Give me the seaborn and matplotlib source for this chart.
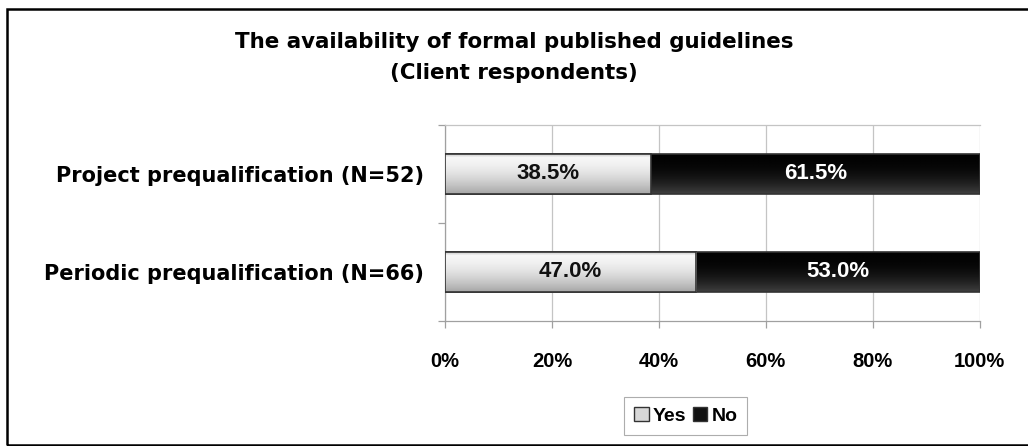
import numpy as np
import pandas as pd
import matplotlib
matplotlib.use("Agg")
import matplotlib.pyplot as plt
from matplotlib.patches import Rectangle, Patch
import seaborn as sns

categories = ["Project prequalification (N=52)", "Periodic prequalification (N=66)"]
yes_pct = [38.5, 47.0]
no_pct = [61.5, 53.0]
series = ["Yes", "No"]
xticks = [0, 20, 40, 60, 80, 100]
xtick_labels = ["0%", "20%", "40%", "60%", "80%", "100%"]

sns.set_theme(style="white")
plt.rcParams["font.family"] = ["Liberation Sans", "DejaVu Sans"]
plt.rcParams["text.color"] = "black"
WIDE = ["DejaVu Sans"]

fig = plt.figure(figsize=(10.28, 4.46), dpi=100)
ax = fig.add_axes([0.433, 0.2803, 0.520, 0.4395])

df = pd.DataFrame({"category": categories, "Yes": yes_pct, "No": no_pct})
df["total"] = df["Yes"] + df["No"]

# stacked bars: full length in the "No" colour, "Yes" drawn over it
sns.barplot(data=df, x="total", y="category", orient="h", color="#111111",
            width=0.4, edgecolor="#333333", linewidth=1.2, ax=ax, zorder=3)
sns.barplot(data=df, x="Yes", y="category", orient="h", color="#dddddd",
            width=0.4, edgecolor="#333333", linewidth=1.2, ax=ax, zorder=4)

# vertical gradient shading inside each bar
n = len(categories)
t = np.linspace(0, 1, 64).reshape(-1, 1)
for i, patch in enumerate(ax.patches):
    light = i >= n
    x0, y0 = patch.get_x(), patch.get_y()
    w, h = patch.get_width(), patch.get_height()
    if light:
        vals = 0.97 - 0.32 * t ** 1.8
        vals[:4] = 0.86
    else:
        vals = 0.01 + 0.24 * t ** 2.2
    img = np.repeat(vals, 2, axis=1)
    im = ax.imshow(img, cmap="gray", vmin=0, vmax=1, aspect="auto",
                   extent=(x0, x0 + w, y0 + h, y0), origin="upper",
                   zorder=patch.get_zorder() + 0.1, interpolation="bilinear")
    im.set_clip_path(patch)
    patch.set_facecolor("none")
    patch.set_zorder(patch.get_zorder() + 0.2)

# value labels centred in each segment
for i in range(n):
    ax.text(yes_pct[i] / 2, i, f"{yes_pct[i]:.1f}%", ha="center", va="center",
            fontsize=16, fontweight="bold", color="#111111", zorder=10)
    ax.text(yes_pct[i] + no_pct[i] / 2, i, f"{no_pct[i]:.1f}%", ha="center",
            va="center", fontsize=16, fontweight="bold", color="white", zorder=10)

ax.set_xlim(0, 100)
ax.set_ylim(1.5, -0.5)
ax.set_xticks(xticks)
ax.set_xticklabels(xtick_labels, fontsize=14.5, fontweight="bold", color="black")
ax.set_yticks([0, 1])
ax.set_yticklabels(categories, fontsize=15, fontweight="bold", color="black",
                   family=WIDE)
ax.set_xlabel("")
ax.set_ylabel("")

ax.grid(axis="x", color="#c4c4c4", linewidth=0.9, zorder=0)
ax.set_axisbelow(True)
ax.spines["right"].set_visible(False)
for s in ["left", "bottom", "top"]:
    ax.spines[s].set_color("#a0a0a0")
    ax.spines[s].set_linewidth(0.9)
ax.spines["top"].set_color("#c4c4c4")

# minor ticks at category boundaries on the y axis
ax.set_yticks([-0.5, 0.5, 1.5], minor=True)
ax.tick_params(axis="y", which="minor", length=5, color="#a0a0a0", width=0.9, left=True)
ax.tick_params(axis="y", which="major", length=0, pad=15)
ax.tick_params(axis="x", which="major", length=5, color="#a0a0a0", width=0.9,
               bottom=True, pad=17)

fig.text(0.5, 0.905, "The availability of formal published guidelines",
         ha="center", va="center", fontsize=15.4, fontweight="bold", family=WIDE)
fig.text(0.5, 0.836, "(Client respondents)", ha="center", va="center",
         fontsize=15.4, fontweight="bold", family=WIDE)

handles = [Patch(facecolor="#d8d8d8", edgecolor="#333333", label="Yes"),
           Patch(facecolor="#111111", edgecolor="#333333", label="No")]
leg = fig.legend(handles=handles, loc="center", bbox_to_anchor=(0.667, 0.067),
                 ncol=2, frameon=True, fancybox=False,
                 handlelength=0.75, handleheight=0.75, handletextpad=0.2,
                 columnspacing=0.35, borderpad=0.5, borderaxespad=0,
                 prop={"weight": "bold", "size": 14})
leg.get_frame().set_edgecolor("#999999")
leg.get_frame().set_linewidth(0.8)

# outer chart border (its right edge lies beyond the canvas)
fig.patches.append(Rectangle((0.007, 0.003), 1.05, 0.976, transform=fig.transFigure,
                             fill=False, edgecolor="black", linewidth=1.8))

fig.savefig("out.png", dpi=100)
